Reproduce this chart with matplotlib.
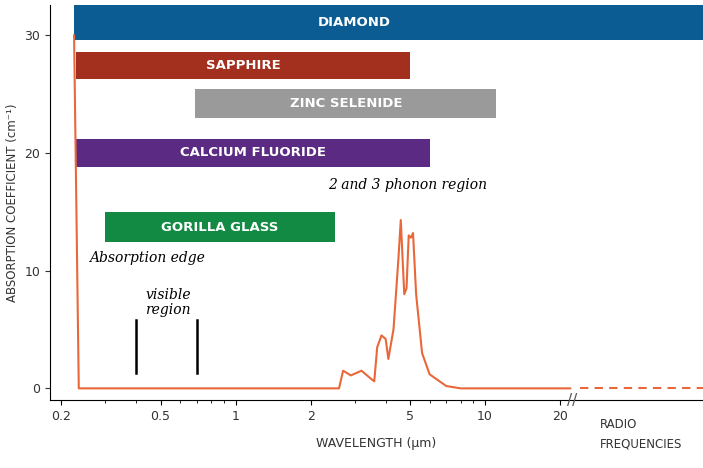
import numpy as np
import matplotlib
matplotlib.use('agg')
import matplotlib.pyplot as plt
from matplotlib.ticker import FixedLocator

# material transmission ranges (micrometres) and bar vertical extents
materials = ['DIAMOND', 'SAPPHIRE', 'ZINC SELENIDE', 'CALCIUM FLUORIDE', 'GORILLA GLASS']
lo_um = [0.225, 0.23, 0.69, 0.23, 0.30]
hi_um = [75, 5.0, 11.1, 6.0, 2.5]
bar_bot = [29.6, 26.3, 23.0, 18.8, 12.4]
bar_top = [32.6, 28.6, 25.4, 21.2, 15.0]
colors = ['#0a5c92', '#a3301e', '#9a9a9a', '#5b2a82', '#128a44']

# absorption curve
wl = [0.225, 0.235, 1.0, 2.6, 2.7, 2.9, 3.2, 3.5, 3.6, 3.7, 3.85, 4.0, 4.1, 4.3,
      4.5, 4.6, 4.75, 4.85, 4.95, 5.05, 5.15, 5.3, 5.6, 6.0, 7.0, 8.0, 22]
absorb = [30, 0, 0, 0, 1.5, 1.1, 1.5, 0.8, 0.6, 3.5, 4.5, 4.2, 2.5, 5.0,
          11, 14.3, 8, 8.5, 13, 12.8, 13.2, 8, 3, 1.2, 0.2, 0.0, 0.0]

xticks = [0.2, 0.5, 1, 2, 5, 10, 20]
xticklabels = ['0.2', '0.5', '1', '2', '5', '10', '20']
orange = '#e8683a'

fig = plt.figure(figsize=(7.03, 4.68), dpi=100)
ax = fig.add_axes([0.071, 0.145, 0.929, 0.845])
ax.set_xscale('log')
ax.set_xlim(0.18, 75)
ax.set_ylim(-1, 32.6)

for name, a, b, y0, y1, c in zip(materials, lo_um, hi_um, bar_bot, bar_top, colors):
    ax.fill_between([a, b], y0, y1, color=c, lw=0)
    xm = np.sqrt(a * min(b, 30)) if name != 'DIAMOND' else 3.0
    ax.text(xm, (y0 + y1) / 2, name, color='white', fontsize=9.5, fontweight='bold',
            ha='center', va='center', family='DejaVu Sans')

ax.plot(wl, absorb, color=orange, lw=1.5)
ax.plot([24, 75], [0, 0], color=orange, lw=1.5, ls=(0, (4, 3)))
ax.plot([0.4, 0.4], [1.3, 5.8], color='black', lw=1.8)
ax.plot([0.7, 0.7], [1.3, 5.8], color='black', lw=1.8)

ax.text(0.258, 10.7, 'Absorption edge', fontsize=10, style='italic', family='DejaVu Serif')
ax.text(0.535, 6.3, 'visible\nregion', fontsize=10, style='italic', family='DejaVu Serif',
        ha='center', linespacing=1.1)
ax.text(4.9, 16.9, '2 and 3 phonon region', fontsize=10, style='italic', family='DejaVu Serif',
        ha='center')

ax.set_xticks(xticks)
ax.set_xticklabels(xticklabels, fontsize=9, color='#333333')
minors = [m * d for d in (0.1, 1, 10) for m in range(2, 10)]
ax.xaxis.set_minor_locator(FixedLocator([v for v in minors if 0.18 < v < 21 and v not in xticks]))
ax.set_yticks([0, 10, 20, 30])
ax.tick_params(axis='y', labelsize=9, colors='#333333')
ax.set_xlabel('WAVELENGTH (µm)', fontsize=9, color='#333333', labelpad=10)
ax.set_ylabel('ABSORPTION COEFFICIENT (cm⁻¹)', fontsize=8.5, color='#333333')
ax.text(29, -2.5, 'RADIO\nFREQUENCIES', fontsize=8.5, color='#333333', va='top', linespacing=1.7)
ax.text(22.3, -1.0, '//', fontsize=11, color='#555555', ha='center', va='center')
for s in ['top', 'right']:
    ax.spines[s].set_visible(False)

fig.savefig('out.png', dpi=100, facecolor='w')
